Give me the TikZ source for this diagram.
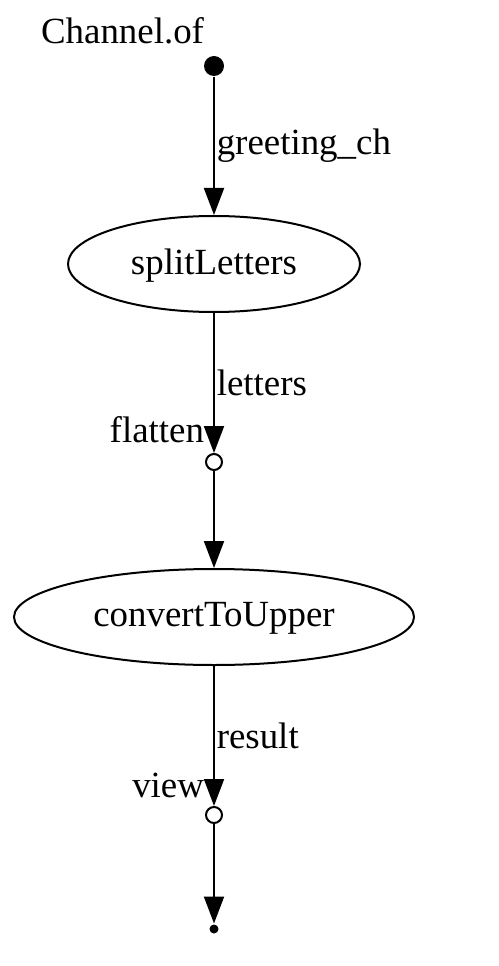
\documentclass[tikz,border=0pt]{standalone}
\usepackage{fontspec}
\setmainfont{Liberation Serif}
\usetikzlibrary{arrows.meta,positioning,shapes.geometric}

\begin{document}
\begin{tikzpicture}[>={Triangle[length=5.4mm, width=4mm]}, line width=0.04cm, every node/.style={font=\fontsize{21}{25}\selectfont},
	proc/.style={draw, ellipse, inner sep=0pt, minimum height=1.92cm, text depth=0.1cm},
	op/.style={draw, circle, fill=white, inner sep=0pt, minimum size=0.32cm},
	elabel/.style={right, inner sep=1pt}]
	\useasboundingbox (0,0) rectangle (9.96,-19.32);
	\node[circle, fill=black, inner sep=0pt, minimum size=0.4cm] (src) at (4.28,-1.32) {};
	\node[anchor=base east, inner sep=0pt] (srclabel) at (4.1,-0.88) {Channel.of};
	\node[proc, minimum width=5.84cm] (split) at (4.28,-5.28) {splitLetters};
	\node[op] (flatten) at (4.28,-9.24) {};
	\node[anchor=base east, inner sep=0pt] (flattenlabel) at (4.1,-8.84) {flatten};
	\node[proc, minimum width=8cm] (upper) at (4.28,-12.34) {convertToUpper};
	\node[op] (view) at (4.28,-16.30) {};
	\node[anchor=base east, inner sep=0pt] (viewlabel) at (4.1,-15.94) {view};
	\node[circle, fill=black, inner sep=0pt, minimum size=0.18cm] (sink) at (4.28,-18.58) {};
	\draw[->] (src) -- node[elabel] {greeting\_ch} (split);
	\draw[->] (split) -- node[elabel] {letters} (flatten);
	\draw[->] (flatten) -- (upper);
	\draw[->] (upper) -- node[elabel] {result} (view);
	\draw[->] (view) -- (sink);
\end{tikzpicture}
\end{document}
